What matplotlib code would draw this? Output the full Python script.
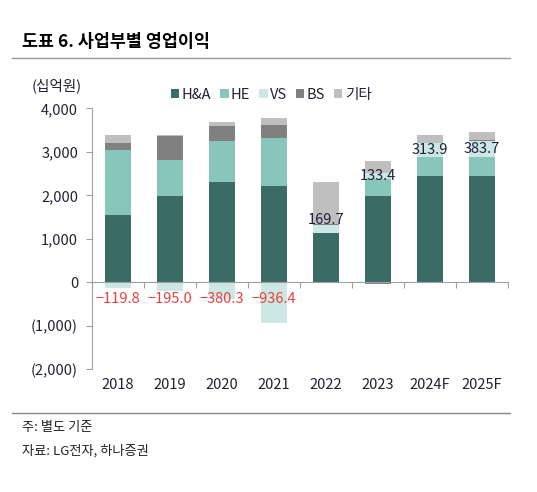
import numpy as np
import matplotlib
matplotlib.use('Agg')
import matplotlib.pyplot as plt
from matplotlib.ticker import FuncFormatter, FixedLocator
from matplotlib.transforms import ScaledTranslation

plt.rcParams['font.family'] = ['Noto Sans CJK KR', 'DejaVu Sans']

# data (십억원)
years = ['2018', '2019', '2020', '2021', '2022', '2023', '2024F', '2025F']
ha = [1537, 1995, 2300, 2225, 1140, 1995, 2440, 2440]
he = [1513, 819, 941, 1093, 0, 380, 450, 430]
vs = [-119.8, -195.0, -380.3, -936.4, 169.7, 133.4, 313.9, 383.7]
bs = [154, 558, 344, 306, 20, -50, 0, 20]
etc = [174, 20, 108, 144, 970, 290, 174, 182]

series = [('H&A', ha, '#3a6b64'), ('HE', he, '#88c6bb'), ('VS', vs, '#cde8e4'),
          ('BS', bs, '#808080'), ('기타', etc, '#bfbfbf')]

fig = plt.figure(figsize=(5.37, 4.92), dpi=100)
ax = fig.add_axes([92 / 537, 1 - 369.3 / 492, 416 / 537, 261 / 492])

x = np.arange(len(years))
pos_bottom = np.zeros(len(years))
neg_bottom = np.zeros(len(years))
vs_center = np.zeros(len(years))
for name, vals, color in series:
    vals = np.array(vals, dtype=float)
    bottom = np.where(vals >= 0, pos_bottom, neg_bottom)
    ax.bar(x, vals, 0.5, bottom=bottom, color=color, label=name, zorder=2)
    if name == 'VS':
        vs_center = bottom + vals / 2
    pos_bottom += np.where(vals >= 0, vals, 0)
    neg_bottom += np.where(vals < 0, vals, 0)

# VS labels
for i, v in enumerate(vs):
    if v < 0:
        ax.text(x[i], -390, '\u2212' + f'{-v:.1f}', ha='center', va='center',
                color='#e8413a', fontsize=10.5, zorder=4)
    else:
        # 2022 label sits a bit higher in the original
        yy = vs_center[i] + (200 if years[i] == '2022' else 0)
        ax.text(x[i], yy, f'{v:.1f}', ha='center', va='center',
                color='#1f1f3a', fontsize=10.5, zorder=4)

ax.set_xlim(-0.5, len(years) - 0.5)
ax.set_ylim(-2000, 4000)

def yfmt(v, p):
    if v < 0:
        return f'({-v:,.0f})'
    return f'{v:,.0f}'

ax.yaxis.set_major_locator(FixedLocator(np.arange(-2000, 4001, 1000)))
ax.yaxis.set_major_formatter(FuncFormatter(yfmt))
ax.tick_params(axis='y', direction='out', length=4, color='#a0a0a0',
               labelsize=10.5, labelcolor='#222233', pad=6)

for s in ['top', 'right']:
    ax.spines[s].set_visible(False)
ax.spines['left'].set_color('#a0a0a0')
ax.spines['bottom'].set_position(('data', 0))
ax.spines['bottom'].set_color('#a0a0a0')
ax.spines['bottom'].set_zorder(3)
ax.set_xticks(np.arange(-0.5, len(years), 1.0))
ax.set_xticklabels([])
ax.tick_params(axis='x', direction='out', length=4, color='#a0a0a0')

off = ScaledTranslation(0, -6 / 72, fig.dpi_scale_trans)
for i, y in enumerate(years):
    ax.text(x[i], 0, y, transform=ax.get_xaxis_transform() + off,
            ha='center', va='top', fontsize=10.5, color='#222233')

fig.text(32 / 537, 1 - 86 / 492, '(십억원)', fontsize=10.5, color='#222233',
         va='center')

ax.legend(loc='center', bbox_to_anchor=(271 / 537, 1 - 95 / 492),
          bbox_transform=fig.transFigure, ncol=5, frameon=False,
          fontsize=10.5, handlelength=0.6, handleheight=0.6,
          handletextpad=0.15, columnspacing=0.6, labelcolor='#222233')

fig.text(22 / 537, 1 - 42 / 492, '도표 6. 사업부별 영업이익', fontsize=12.5,
         fontweight='bold', color='black', va='center')
fig.add_artist(plt.Line2D([12 / 537, 510 / 537], [1 - 58 / 492, 1 - 58 / 492],
                          color='#999999', lw=1, transform=fig.transFigure))
fig.add_artist(plt.Line2D([12 / 537, 510 / 537], [1 - 413 / 492, 1 - 413 / 492],
                          color='#888888', lw=1, transform=fig.transFigure))
fig.text(22 / 537, 1 - 428 / 492, '주: 별도 기준', fontsize=9.5, color='#222222',
         va='center')
fig.text(22 / 537, 1 - 451 / 492, '자료: LG전자, 하나증권', fontsize=9.5,
         color='#222222', va='center')

fig.savefig('out.png', dpi=100)
